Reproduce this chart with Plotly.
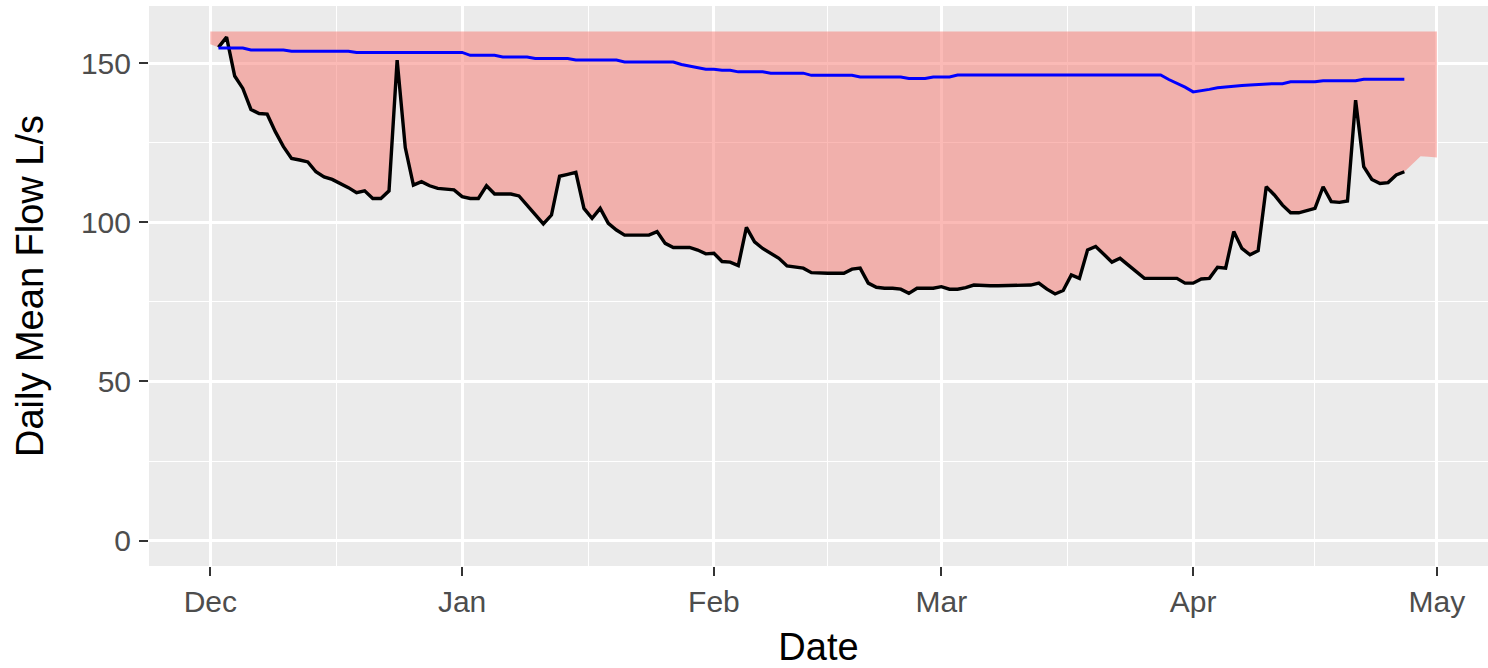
import pandas as pd
import plotly.graph_objects as go

# daily mean flow (L/s), one value per day from 2 Dec 2018 to 27 Apr 2019
flow_start = "2018-12-02"
flow = [
    155.0, 158.2, 146.0, 142.1, 135.5, 134.2, 134.0, 128.5, 123.8, 120.1,
    119.6, 119.0, 115.9, 114.3, 113.5, 112.2, 110.9, 109.3, 109.9, 107.5,
    107.5, 109.9, 151.0, 123.5, 111.7, 112.8, 111.5, 110.7, 110.5, 110.2,
    108.1, 107.5, 107.5, 111.5, 108.9, 108.9, 108.9, 108.3, 105.4, 102.3,
    99.5, 102.3, 114.5, 115.1, 115.7, 104.4, 101.3, 104.4, 99.7, 97.6,
    96.0, 96.0, 96.0, 96.0, 97.1, 93.4, 92.1, 92.1, 92.1, 91.3,
    90.1, 90.3, 87.7, 87.5, 86.4, 98.4, 93.9, 91.8, 90.3, 88.7,
    86.3, 85.9, 85.6, 84.2, 84.0, 84.0, 84.0, 84.0, 85.3, 85.6,
    80.9, 79.6, 79.3, 79.3, 79.0, 77.7, 79.3, 79.3, 79.3, 79.8,
    79.0, 79.0, 79.5, 80.3, 80.1, 80.1, 80.1, 80.1, 80.1, 80.1,
    80.3, 80.9, 79.0, 77.5, 78.6, 83.5, 82.4, 91.3, 92.4, 90.0,
    87.5, 88.7, 86.6, 84.5, 82.4, 82.4, 82.4, 82.4, 82.4, 80.9,
    80.9, 82.2, 82.4, 85.9, 85.6, 97.1, 91.8, 89.8, 91.1, 111.2,
    108.6, 105.4, 103.0, 103.0, 103.7, 104.4, 111.2, 106.5, 106.3, 106.7,
    138.4, 117.5, 113.5, 112.2, 112.5, 114.9, 115.9,
]

# blue reference line, same days as flow
reference = [
    154.8, 154.8, 154.8, 154.8, 154.2, 154.2, 154.2, 154.2, 154.2, 153.8,
    153.8, 153.8, 153.8, 153.8, 153.8, 153.8, 153.8, 153.4, 153.4, 153.4,
    153.4, 153.4, 153.4, 153.4, 153.4, 153.4, 153.4, 153.4, 153.4, 153.4,
    153.4, 152.5, 152.5, 152.5, 152.5, 152.0, 152.0, 152.0, 152.0, 151.5,
    151.5, 151.5, 151.5, 151.5, 151.0, 151.0, 151.0, 151.0, 151.0, 151.0,
    150.4, 150.4, 150.4, 150.4, 150.4, 150.4, 150.4, 149.6, 149.1, 148.6,
    148.1, 148.1, 147.8, 147.8, 147.3, 147.3, 147.3, 147.3, 146.9, 146.9,
    146.9, 146.9, 146.9, 146.2, 146.2, 146.2, 146.2, 146.2, 146.2, 145.7,
    145.7, 145.7, 145.7, 145.7, 145.7, 145.2, 145.2, 145.2, 145.7, 145.7,
    145.7, 146.3, 146.3, 146.3, 146.3, 146.3, 146.3, 146.3, 146.3, 146.3,
    146.3, 146.3, 146.3, 146.3, 146.3, 146.3, 146.3, 146.3, 146.3, 146.3,
    146.3, 146.3, 146.3, 146.3, 146.3, 146.3, 146.3, 144.9, 143.8, 142.5,
    141.0, 141.3, 141.8, 142.3, 142.6, 142.7, 143.0, 143.2, 143.4, 143.6,
    143.6, 143.6, 144.2, 144.2, 144.2, 144.2, 144.5, 144.5, 144.5, 144.5,
    144.5, 145.0, 145.0, 145.0, 145.0, 145.0, 145.0,
]

# shaded band: lower edge runs 1 Dec 2018 - 1 May 2019, upper edge constant
band_start = "2018-12-01"
band_head = [156.0]
band_tail = [118.3, 120.8, 120.6, 120.4]
band_top = 160

y_ticks = [0, 50, 100, 150]
y_minor = [25, 75, 125]
month_starts = ["2018-12-01", "2019-01-01", "2019-02-01", "2019-03-01", "2019-04-01", "2019-05-01"]

flow_dates = pd.date_range(flow_start, periods=len(flow), freq="D")
band_low = band_head + flow + band_tail
band_dates = pd.date_range(band_start, periods=len(band_low), freq="D")

months = pd.to_datetime(month_starts)
month_mids = [months[i] + (months[i + 1] - months[i]) / 2 for i in range(len(months) - 1)]

font = "Liberation Sans, Arial, sans-serif"

fig = go.Figure()

fig.add_trace(go.Scatter(
    x=band_dates, y=[band_top] * len(band_dates),
    mode="lines", line=dict(width=0), hoverinfo="skip", showlegend=False
))
fig.add_trace(go.Scatter(
    x=band_dates, y=band_low,
    mode="lines", line=dict(width=0), fill="tonexty",
    fillcolor="rgba(248,118,109,0.5)", hoverinfo="skip", showlegend=False
))
fig.add_trace(go.Scatter(
    x=flow_dates, y=flow, mode="lines",
    line=dict(color="black", width=3.4), showlegend=False
))
fig.add_trace(go.Scatter(
    x=flow_dates, y=reference, mode="lines",
    line=dict(color="blue", width=3), showlegend=False
))

x_lo = months[0] - pd.Timedelta(days=7.55)
x_hi = months[-1] + pd.Timedelta(days=6.3)

fig.update_layout(
    width=1488, height=668,
    margin=dict(l=149, r=0, t=6, b=102),
    paper_bgcolor="white", plot_bgcolor="#EBEBEB",
    font=dict(family=font),
    showlegend=False,
    xaxis=dict(
        type="date", range=[x_lo, x_hi],
        tickmode="array", tickvals=months, ticktext=[m.strftime("%b") for m in months],
        ticks="outside", ticklen=9, tickwidth=2, tickcolor="#333333",
        tickfont=dict(size=30, color="#4D4D4D"), ticklabelstandoff=0,
        showgrid=True, gridcolor="white", gridwidth=2.6,
        minor=dict(tickmode="array", tickvals=month_mids, showgrid=True,
                   gridcolor="white", gridwidth=1.3, ticklen=0),
        zeroline=False, showline=False, automargin=False,
        title=dict(text="Date", font=dict(size=38, color="black"), standoff=17),
    ),
    yaxis=dict(
        range=[-8, 168],
        tickmode="array", tickvals=y_ticks,
        ticks="outside", ticklen=9, tickwidth=2, tickcolor="#333333",
        tickfont=dict(size=30, color="#4D4D4D"), ticklabelstandoff=2,
        showgrid=True, gridcolor="white", gridwidth=2.6,
        minor=dict(tickmode="array", tickvals=y_minor, showgrid=True,
                   gridcolor="white", gridwidth=1.3, ticklen=0),
        zeroline=False, showline=False, automargin=False,
        title=dict(text="Daily Mean Flow L/s", font=dict(size=38, color="black"), standoff=25),
    ),
)

# drop the browser's default page margin so the figure sits flush in the window
fig.write_html("out.html", config={"displayModeBar": False},
               post_script="document.body.style.margin='0';")
